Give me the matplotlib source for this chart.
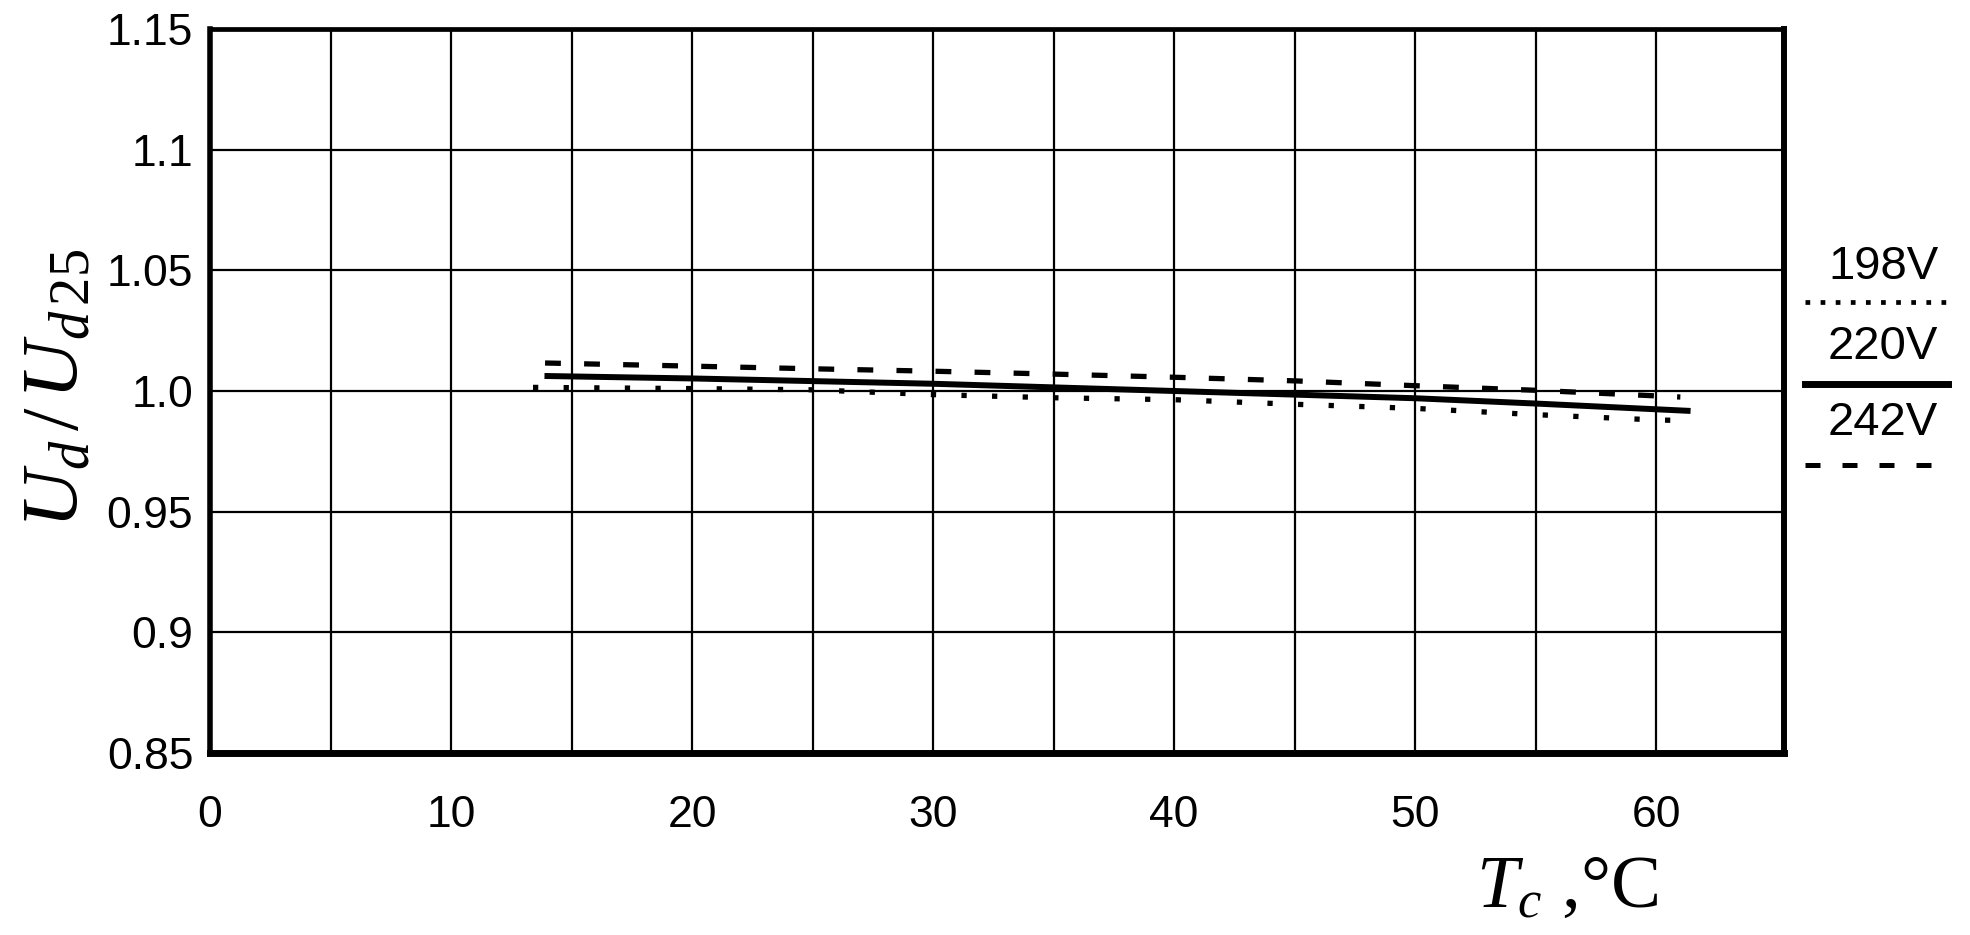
import matplotlib
matplotlib.use("Agg")
import matplotlib.pyplot as plt
from matplotlib.lines import Line2D

plt.rcParams['font.family'] = ['Liberation Sans', 'DejaVu Sans']
plt.rcParams['mathtext.fontset'] = 'custom'
plt.rcParams['mathtext.rm'] = 'Liberation Serif'
plt.rcParams['mathtext.it'] = 'Liberation Serif:italic'

# data
x_198 = [13.4, 20, 25, 30, 35, 40, 45, 50, 55, 60, 61]
y_198 = [1.0015, 1.0010, 1.0005, 0.9985, 0.9972, 0.9964, 0.9945, 0.9928, 0.9902, 0.9880, 0.9878]
x_220 = [14, 20, 30, 40, 50, 55, 61.3]
y_220 = [1.0062, 1.0052, 1.0030, 1.0000, 0.9970, 0.9948, 0.9918]
x_242 = [13.9, 20, 25, 30, 35, 40, 45, 50, 55, 61]
y_242 = [1.0116, 1.0103, 1.0092, 1.0082, 1.0070, 1.0057, 1.0042, 1.0022, 1.0003, 0.9975]

xticks = [0, 10, 20, 30, 40, 50, 60]
yticks = [0.85, 0.9, 0.95, 1.0, 1.05, 1.1, 1.15]
ylabels = ['0.85', '0.9', '0.95', '1.0', '1.05', '1.1', '1.15']
series = ['198V', '220V', '242V']

fig = plt.figure(figsize=(19.7, 9.35), dpi=100)
ax = fig.add_axes([210/1970, (935-753)/935, (1784-210)/1970, (753-29)/935])

ax.plot(x_198, y_198, color='black', lw=3.8, dashes=(1, 4.8))
ax.plot(x_220, y_220, color='black', lw=4.3)
ax.plot(x_242, y_242, color='black', lw=3.8, dashes=(3, 4.4))

ax.set_xlim(0, 65.3)
ax.set_ylim(0.85, 1.15)
ax.set_xticks(xticks)
ax.set_xticks(range(0, 65, 5), minor=True)
ax.set_yticks(yticks)
ax.set_yticklabels(ylabels)
ax.grid(True, which='both', color='black', lw=1.6)
ax.tick_params(which='both', length=0, labelsize=32)
ax.tick_params(axis='x', pad=30)
ax.tick_params(axis='y', pad=12)

ax.spines['left'].set_linewidth(4)
ax.spines['top'].set_linewidth(3.4)
ax.spines['bottom'].set_linewidth(5)
ax.spines['right'].set_linewidth(4.3)

fig.text(1476/1970, 1 - 907/935, r'$T_{c}$ ,°C', fontsize=54,
         family='Liberation Serif', ha='left', va='baseline')
fig.text(57/1970, 1 - 388/935, r'$U_{d}\,/\,U_{d\,25}$', fontsize=58,
         rotation=90, ha='center', va='center')

# legend on the right: label above each line sample
leg_y = [(267, 302), (347, 384), (423, 465)]
leg_style = [dict(lw=3.4, dashes=(1, 2.2)), dict(lw=5), dict(lw=3.6, dashes=(3, 4.4))]
for name, (ty, ly), st in zip(series, leg_y, leg_style):
    fig.text(1883/1970, 1 - ty/935, name, fontsize=34, ha='center', va='center')
    fig.add_artist(Line2D([1805/1970, 1948/1970], [1 - ly/935, 1 - ly/935],
                          color='black', transform=fig.transFigure, **st))

fig.savefig('out.png', dpi=100)
